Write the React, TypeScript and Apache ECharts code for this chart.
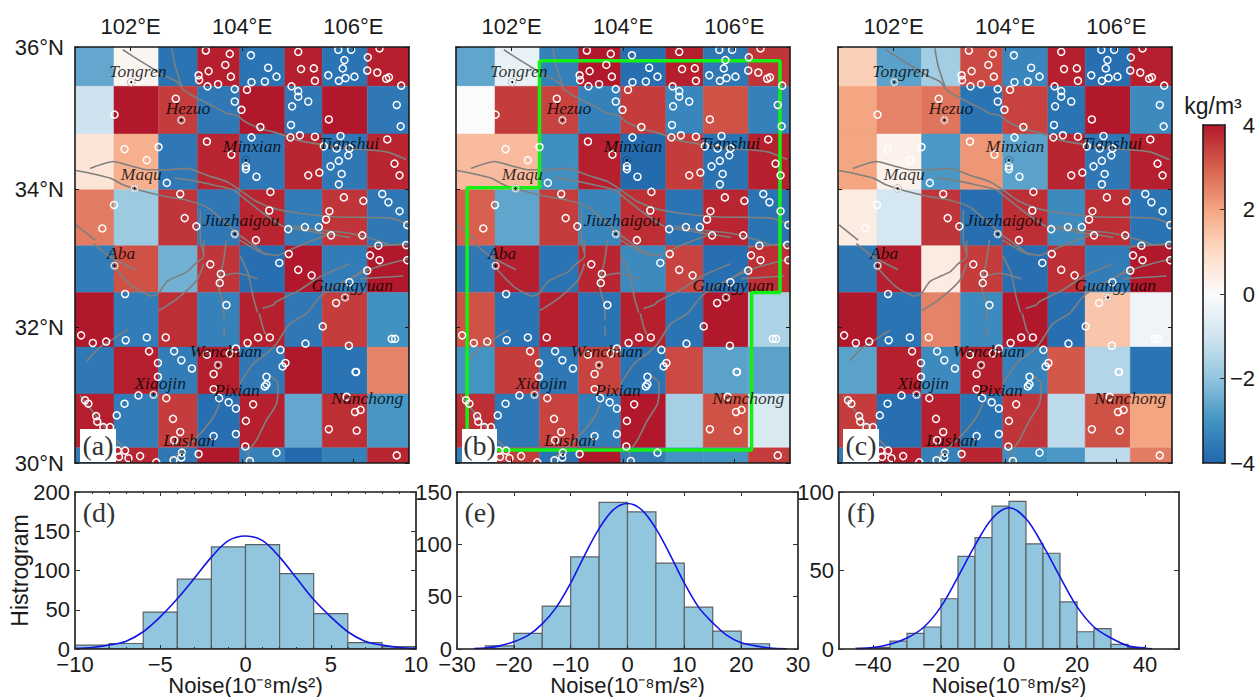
import React, { useEffect, useRef } from "react";
import * as echarts from "echarts";

const lonEdges = [101, 101.7, 102.5, 103.2, 103.96, 104.77, 105.44, 106.25, 107];
const latEdges = [36.06, 35.49, 34.8, 33.99, 33.18, 32.5, 31.71, 31.03, 30.25, 30.03];
const lonTicks = [102, 104, 106];
const latTicks = [30.03, 32, 34, 36.06];
const colorStops = ["#2166ac", "#4393c3", "#92c5de", "#d1e5f0", "#fbfbfb", "#fddbc7", "#f4a582", "#d6604d", "#b2182b"];
const colorbarTicks = [-4, -2, 0, 2, 4];

const cellsA = [
  [-2.6, 0.2, -3.7, 3.9, -3.7, 3.9, -3.7, 3.9],
  [-1.05, 4, 3.5, -3.6, 4, -3.6, 4, -3.6],
  [0.7, 1.8, -3.6, 3.8, -3.6, 3.8, -3.6, 3.8],
  [2.6, -1.85, 3.6, -3.6, 3.8, -3.5, 3.6, -3.6],
  [-3.5, 3.2, -2.4, 3.6, -3.8, 4, -3.5, 4],
  [4, -3.5, 3.7, -3.4, 3.9, -3.6, 3.5, -3.05],
  [-3.6, 3.9, -3.5, 3.9, -3.6, 4, -3.7, 2.5],
  [3.9, -3.5, 3.5, -3.8, 3.9, -2.6, 3.7, -2.95],
  [-3.5, 3.8, -3.6, 4, -3.4, -3.9, -3.4, 3.8],
];
const cellsB = [
  [-2.65, -0.45, -3.4, 4, -3.8, 3.9, -3.6, 3.6],
  [0, 3.5, 3.4, -3.4, 3.5, -3.3, 3.2, -3.4],
  [1.6, 1.6, -3.1, 3.9, -3.9, 3.5, -3.7, 3.9],
  [3, -2.65, 3.5, -3.3, 3.7, -3.7, 3.8, -3.7],
  [-3.6, 3.9, -3.7, 3.8, -3.2, 3.4, -3.8, 3.7],
  [3.2, -3.7, 3.9, -3.7, 3.9, -3.7, 4, -1.6],
  [-3, 3.5, -3.6, 3.4, -3.7, 3.3, -2.7, -2.7],
  [3.7, -3.6, 3.4, -3.5, 4, -1.7, 3.2, -0.8],
  [-3.5, 3.5, -3.7, 4, -3.5, -3, -3, 3.5],
];
const cellsC = [
  [1.2, -2.7, -1.75, 3.3, -3.3, 3.9, -3.8, 3.9],
  [2, 2.5, 2.7, -3.7, 3.4, -3.7, 4, -3.2],
  [2, 0.3, -2.9, 2.2, -2.7, 3.8, -3.6, 3.9],
  [0.5, -0.9, 3.6, -3.8, 3.7, -3.2, 3.7, -3.7],
  [-3.6, 3.9, 0.5, 3.5, -3.8, 3.7, -3.5, 4],
  [4, -3.7, 2.5, -3.2, 4, -3.8, 1.4, -0.3],
  [-2.7, 3.9, -3.2, 3.9, -3.4, 3.1, -1.5, -3.7],
  [3.5, -3.8, 3.9, -3.7, 3.6, -1.3, 3.2, 2],
  [-3.5, 3.9, -3.4, 3.8, -3.1, -2.9, -1.3, 2.6],
];

const quakes = [
  [102.01, 35.55], [101.71, 35.08], [101.89, 34.58], [102.5, 34.61], [102.29, 34.42], [102.07, 34.01], [101.7, 33.77], [101.49, 33.43],
  [102.65, 34.09], [102.89, 33.93], [102.97, 33.58], [103.18, 33.46], [102.81, 35.31], [102.91, 35.0], [103.35, 36.01], [103.78, 35.96],
  [103.7, 35.8], [103.4, 35.71], [103.22, 35.65], [103.23, 35.58], [103.8, 35.63], [103.57, 35.52], [103.38, 35.49], [104.16, 35.94],
  [104.47, 35.76], [104.62, 35.63], [104.41, 35.56], [104.17, 35.55], [103.87, 35.45], [104.09, 35.44], [103.87, 35.27], [103.99, 35.15],
  [104.33, 34.9], [103.37, 34.69], [103.81, 34.5], [104.17, 34.75], [104.07, 34.33], [104.07, 34.29], [104.26, 34.18], [104.51, 33.96],
  [104.49, 33.69], [105.01, 35.99], [105.06, 35.74], [105.29, 35.75], [105.31, 35.57], [104.89, 35.49], [105.01, 35.42], [105.01, 35.34],
  [105.19, 35.27], [104.9, 35.2], [104.88, 34.93], [104.87, 34.75], [105.04, 34.78], [105.31, 34.76], [105.56, 35.01], [105.19, 34.2],
  [105.39, 34.24], [105.73, 36.02], [105.96, 36.02], [105.84, 35.87], [105.81, 35.75], [105.55, 35.65], [105.74, 35.57], [105.86, 35.61],
  [106.02, 35.63], [106.26, 35.91], [106.47, 36.04], [106.25, 35.72], [106.43, 35.69], [106.59, 35.6], [106.64, 35.62], [106.86, 35.5],
  [106.78, 35.22], [106.85, 34.91], [105.77, 34.77], [105.47, 34.62], [105.7, 34.59], [105.93, 34.59], [105.91, 34.49], [105.74, 34.41],
  [105.59, 34.33], [105.79, 34.22], [105.74, 34.07], [106.61, 34.72], [106.74, 34.37], [106.83, 34.2], [106.52, 33.93], [106.63, 33.81],
  [106.83, 33.68], [105.83, 33.88], [106.18, 33.83], [105.57, 33.68], [105.51, 33.56], [104.83, 33.42], [105.13, 33.45], [105.38, 33.45],
  [105.6, 33.33], [106.16, 33.33], [106.97, 33.48], [103.87, 33.35], [104.25, 33.26], [101.71, 32.89], [101.9, 32.48], [103.43, 32.91],
  [103.62, 32.77], [103.6, 32.64], [103.72, 32.32], [104.67, 32.93], [104.84, 33.06], [105.01, 32.83], [105.25, 32.75], [105.69, 32.35],
  [105.85, 32.43], [105.93, 32.65], [106.25, 32.82], [106.3, 33.04], [106.47, 32.97], [106.45, 33.18], [106.95, 33.19], [106.97, 32.97],
  [105.45, 32.01], [105.92, 31.73], [106.69, 31.83], [106.75, 31.83], [105.14, 31.76], [101.11, 31.88], [101.32, 31.77], [101.56, 31.79],
  [101.91, 31.81], [102.29, 31.85], [102.63, 31.85], [102.33, 31.65], [102.78, 31.65], [102.91, 31.52], [103.1, 31.4], [102.49, 31.48],
  [102.49, 31.28], [102.14, 31.01], [102.41, 31.02], [102.64, 30.97], [101.89, 30.89], [101.75, 30.72], [101.18, 30.94], [101.24, 30.89],
  [101.38, 30.71], [101.4, 30.63], [101.51, 30.55], [101.63, 30.55], [102.76, 30.67], [102.89, 30.48], [102.78, 30.36], [101.77, 30.21],
  [101.9, 30.21], [101.79, 30.12], [101.96, 30.1], [102.17, 30.13], [102.46, 30.04], [102.92, 30.18], [102.91, 30.11], [102.77, 30.07],
  [103.22, 30.16], [103.49, 30.42], [103.89, 30.45], [104.06, 30.27], [104.14, 30.06], [104.62, 30.18], [106.78, 30.14], [105.56, 30.52],
  [106.06, 30.5], [106.03, 30.77], [106.13, 30.8], [105.88, 30.99], [106.04, 31.35], [106.05, 31.35], [104.78, 31.48], [104.73, 31.43],
  [104.69, 31.67], [104.44, 31.28], [104.44, 31.17], [104.41, 31.14], [104.2, 30.88], [104.07, 30.64], [103.89, 30.82], [103.76, 30.91],
  [103.59, 30.97], [103.49, 31.1], [103.49, 31.32], [103.57, 31.45], [103.37, 31.6], [103.78, 31.62], [103.89, 31.69], [104.1, 31.77],
  [104.29, 31.85], [104.5, 31.85],
];

const faults = [
  [[101.86, 36.02], [102.05, 35.92], [102.29, 35.8], [102.59, 35.65], [102.83, 35.56], [102.95, 35.44], [103.19, 35.32], [103.49, 35.2], [103.72, 35.1], [103.9, 35.07], [104.05, 34.98], [104.32, 34.88], [104.56, 34.83], [104.8, 34.77], [104.98, 34.71], [105.4, 34.65], [105.88, 34.59], [106.24, 34.57], [106.6, 34.54], [106.95, 34.43]],
  [[102.74, 36.04], [102.8, 35.78], [102.92, 35.49]],
  [[101.27, 34.3], [101.69, 34.4], [101.99, 34.34], [102.29, 34.28], [102.65, 34.28], [103.01, 34.3], [103.37, 34.2], [103.72, 34.11], [103.96, 33.99], [104.26, 33.82], [104.62, 33.71], [105.04, 33.65], [105.64, 33.6], [106.24, 33.59], [106.66, 33.58], [107, 33.49]],
  [[101.02, 34.27], [101.27, 34.23], [101.63, 34.16], [101.87, 34.06], [102.23, 33.97], [102.65, 33.89], [103.01, 33.84], [103.37, 33.74], [103.72, 33.5], [103.96, 33.33], [104.2, 33.19], [104.44, 33.04]],
  [[102.78, 34.16], [103.07, 34.13], [103.49, 34.06], [103.84, 33.99], [104.08, 33.84], [104.38, 33.65], [104.74, 33.46], [105.04, 33.41], [105.64, 33.34], [105.94, 33.3]],
  [[101.33, 33.21], [101.63, 33.02], [102.08, 32.83]],
  [[101.72, 32.85], [102.05, 32.58], [102.38, 32.45], [102.5, 32.49], [102.65, 32.66], [103.01, 32.8], [103.16, 32.92], [103.31, 33.02], [103.31, 33.26]],
  [[102.51, 32.24], [102.83, 32.41], [103.19, 32.68], [103.31, 32.92]],
  [[103.72, 33.26], [103.66, 32.92], [103.57, 32.63], [103.66, 32.34], [103.68, 32.1]],
  [[103.68, 32.01], [103.68, 31.88]],
  [[103.96, 33.04], [104.11, 32.78], [104.2, 32.44], [104.28, 32.21]],
  [[104.31, 32.2], [104.38, 31.98], [104.43, 31.89]],
  [[103.6, 32.73], [103.9, 32.78], [104.29, 32.7]],
  [[104.37, 32.27], [104.56, 32.32], [104.62, 32.37], [105.04, 32.54], [105.4, 32.73], [105.94, 32.92]],
  [[101.21, 31.51], [101.45, 31.71], [101.69, 31.83], [101.94, 31.96]],
  [[106.24, 32.87], [106, 32.73], [105.64, 32.58], [105.4, 32.44], [105.16, 32.2], [104.86, 32.05], [104.62, 31.76], [104.44, 31.62], [104.2, 31.47], [103.96, 31.18]],
  [[106.12, 32.7], [106.9, 32.74]],
  [[106, 32.73], [106.42, 32.87], [107, 32.99]],
  [[104.5, 31.3], [104.65, 31.18], [104.62, 30.89], [104.44, 30.65], [104.26, 30.36], [104.11, 30.17], [104.14, 30.05]],
  [[103.6, 30.89], [103.49, 30.7], [103.31, 30.51], [103.07, 30.31], [102.71, 30.07]],
  [[101.09, 31.01], [101.39, 30.7], [101.63, 30.46], [101.87, 30.26]],
  [[103.96, 33.26], [104.32, 33.09], [104.62, 33.04], [104.92, 33.14], [105.22, 33.24], [105.52, 33.33]],
  [[104.92, 33.46], [105.34, 33.41], [105.94, 33.36], [106.42, 33.26], [106.66, 33.19]],
  [[106.24, 33.16], [106.96, 33.21]],
  [[103.25, 33.7], [103.25, 33.26], [103.31, 33.07]],
  [[101.02, 33.48], [101.36, 33.26]],
];

const cityNames = ["Tongren", "Hezuo", "Minxian", "Tianshui", "Maqu", "Jiuzhaigou", "Aba", "Guangyuan", "Wenchuan", "Xiaojin", "Pixian", "Nanchong", "Lushan"];
const cityLon = [102.13, 103.03, 104.18, 105.92, 102.19, 103.98, 101.83, 105.98, 103.71, 102.53, 103.91, 106.25, 103.05];
const cityLat = [35.71, 35.18, 34.63, 34.67, 34.22, 33.55, 33.07, 32.61, 31.65, 31.19, 31.09, 30.97, 30.36];
const cityDots = [[102.01, 35.55], [102.91, 35.0], [102.07, 34.01], [104.07, 34.42], [103.87, 33.35], [101.71, 32.89], [105.85, 32.43], [103.57, 31.45], [102.41, 31.02], [102.92, 30.15]];

const greenOutline = [[102.5, 35.86], [106.82, 35.86], [106.82, 32.5], [106.31, 32.5], [106.31, 30.22], [101.2, 30.22], [101.2, 34.02], [102.5, 34.02], [102.5, 35.86]];

const histDStart = -10;
const histDWidth = 2;
const histDCounts = [5, 7, 47, 89, 130, 133, 96, 45, 8, 3];
const curveDX = [-10, -9, -8, -7, -6, -5, -4, -3, -2, -1, 0, 1, 2, 3, 4, 5, 6, 7, 8, 9, 10];
const curveDY = [1, 2, 5, 10, 22, 41, 64, 90, 117, 138, 144, 138, 117, 90, 63, 41, 22, 10, 5, 2, 1];

const histEStart = -25;
const histEWidth = 5;
const histECounts = [3, 15, 41, 88, 140, 131, 82, 40, 17, 5];
const curveEX = [-27, -25, -22.5, -20, -17.5, -15, -12.5, -10, -7.5, -5, -2.5, 0, 2.5, 5, 7.5, 10, 12.5, 15, 17.5, 20, 22.5, 25, 28];
const curveEY = [0.5, 1, 3, 7, 13, 24, 40, 63, 90, 115, 133, 139, 133, 115, 90, 63, 40, 25, 13, 6, 3, 1, 0.3];

const histFStart = -45;
const histFWidth = 5;
const histFCounts = [0.6, 1, 5, 10, 14, 32, 59, 71, 91, 94, 67, 61, 30, 11, 13, 3, 1];
const curveFX = [-45, -40, -35, -30, -25, -20, -15, -10, -5, 0, 5, 10, 15, 20, 25, 30, 35, 40, 42];
const curveFY = [0.2, 1, 3, 7, 14, 27, 46, 66, 83, 90, 83, 66, 46, 27, 14, 7, 2, 0.5, 0.2];

const FRAME = "#1a1a1a";
const SANS = "Liberation Sans";
const SERIF = "Liberation Serif";
const MINUS = "\u2212";
const signed = (v: number) => (v < 0 ? MINUS + Math.abs(v) : String(v));

function valueColor(v: number) {
  const t = (v + 4) / 8;
  return echarts.color.lerp(Math.max(0, Math.min(1, t)), colorStops);
}

function cellItem(_: any, api: any) {
  const a = api.coord([api.value(0), api.value(3)]);
  const b = api.coord([api.value(1), api.value(2)]);
  const fill = valueColor(api.value(4));
  return {
    type: "rect",
    shape: { x: a[0], y: a[1], width: b[0] - a[0], height: b[1] - a[1] },
    style: { fill, stroke: fill, lineWidth: 0.4 },
  };
}

function barItem(_: any, api: any) {
  const a = api.coord([api.value(0), api.value(2)]);
  const b = api.coord([api.value(1), 0]);
  return {
    type: "rect",
    shape: { x: a[0], y: a[1], width: b[0] - a[0], height: b[1] - a[1] },
    style: { fill: "#92c5de", stroke: "#5a6266", lineWidth: 1.2 },
  };
}

function colorbarItem(_: any, api: any) {
  const a = api.coord([0, api.value(1)]);
  const b = api.coord([1, api.value(0)]);
  const n = colorStops.length - 1;
  return {
    type: "rect",
    shape: { x: a[0], y: a[1], width: b[0] - a[0], height: b[1] - a[1] },
    style: {
      fill: new echarts.graphic.LinearGradient(0, 1, 0, 0, colorStops.map((color, i) => ({ offset: i / n, color }))),
    },
  };
}

const frameLine = { color: FRAME, width: 1.6 };

function buildOption() {
  const grid: any[] = [];
  const xAxis: any[] = [];
  const yAxis: any[] = [];
  const series: any[] = [];

  const mapPanels = [
    { left: 75, cells: cellsA },
    { left: 456, cells: cellsB },
    { left: 838, cells: cellsC },
  ];

  mapPanels.forEach((p, idx) => {
    const g = grid.length;
    grid.push({ left: p.left, top: 47, width: 334, height: 416, outerBoundsMode: "none" });
    const xi = xAxis.length;
    const yi = yAxis.length;
    const xBase = {
      gridIndex: g, type: "value", min: 101, max: 107, z: 10,
      axisLine: { show: true, onZero: false, lineStyle: frameLine },
      axisTick: { show: true, inside: true, length: 4, customValues: lonTicks, lineStyle: { color: FRAME, width: 1 } },
      splitLine: { show: false },
    };
    xAxis.push({
      ...xBase, position: "top",
      axisLabel: { show: true, customValues: lonTicks, formatter: (v: number) => `${v}\u00b0E`, fontSize: 22, color: "#1a1a1a", fontFamily: SANS, margin: 10 },
    });
    xAxis.push({ ...xBase, position: "bottom", axisLabel: { show: false } });
    const yBase = {
      gridIndex: g, type: "value", min: 30.03, max: 36.06, z: 10,
      axisLine: { show: true, onZero: false, lineStyle: frameLine },
      axisTick: { show: true, inside: true, length: 4, customValues: latTicks, lineStyle: { color: FRAME, width: 1 } },
      splitLine: { show: false },
    };
    yAxis.push({
      ...yBase, position: "left",
      axisLabel: {
        show: idx === 0, customValues: latTicks, formatter: (v: number) => `${Math.round(v)}\u00b0N`,
        fontSize: 22, color: "#1a1a1a", fontFamily: SANS, margin: 11,
      },
    });
    yAxis.push({ ...yBase, position: "right", axisLabel: { show: false } });

    const cellData: number[][] = [];
    p.cells.forEach((row, r) =>
      row.forEach((v, c) => cellData.push([lonEdges[c], lonEdges[c + 1], latEdges[r + 1], latEdges[r], v]))
    );
    series.push({
      type: "custom", xAxisIndex: xi, yAxisIndex: yi, renderItem: cellItem, data: cellData,
      encode: { x: [0, 1], y: [2, 3] }, clip: true, z: 2, silent: true,
    });
    faults.forEach((f) =>
      series.push({
        type: "line", xAxisIndex: xi, yAxisIndex: yi, data: f, symbol: "none", smooth: 0.2, clip: true, z: 3, silent: true,
        lineStyle: { color: "#7f7f7f", width: 1.6 },
      })
    );
    if (idx === 1) {
      series.push({
        type: "line", xAxisIndex: xi, yAxisIndex: yi, data: greenOutline, symbol: "none", clip: false, z: 4, silent: true,
        lineStyle: { color: "#14f014", width: 3.5 },
      });
    }
    series.push({
      type: "scatter", xAxisIndex: xi, yAxisIndex: yi, data: quakes, symbol: "circle", symbolSize: 7, clip: true, z: 5, silent: true,
      itemStyle: { color: "rgba(0,0,0,0)", borderColor: "#ffffff", borderWidth: 1.5, opacity: 1 },
    });
    series.push({
      type: "scatter", xAxisIndex: xi, yAxisIndex: yi, data: cityDots, symbol: "circle", symbolSize: 2, clip: true, z: 6, silent: true,
      itemStyle: { color: "#000000", opacity: 1 },
    });
    series.push({
      type: "scatter", xAxisIndex: xi, yAxisIndex: yi, data: cityDots, symbol: "circle", symbolSize: 7.5, clip: true, z: 6, silent: true,
      itemStyle: { color: "rgba(0,0,0,0)", borderColor: "#000000", borderWidth: 0.7, borderType: "dotted", opacity: 0.8 },
    });
    series.push({
      type: "scatter", xAxisIndex: xi, yAxisIndex: yi, symbolSize: 1, clip: false, z: 7, silent: true,
      itemStyle: { color: "rgba(0,0,0,0)" },
      data: cityNames.map((name, i) => ({ name, value: [cityLon[i], cityLat[i]] })),
      label: {
        show: true, position: "inside", formatter: "{b}", color: "#000000",
        fontFamily: SERIF, fontStyle: "italic", fontSize: 17.5,
      },
      labelLayout: { hideOverlap: false },
    });
  });

  const hists = [
    { left: 75, width: 341, xMin: -10, xMax: 10, xInt: 5, yMax: 200, start: histDStart, w: histDWidth, counts: histDCounts, cx: curveDX, cy: curveDY, minor: true, custom: null, name: "Histrogram" },
    { left: 457, width: 341, xMin: -30, xMax: 30, xInt: 10, yMax: 150, start: histEStart, w: histEWidth, counts: histECounts, cx: curveEX, cy: curveEY, minor: false, custom: null, name: "" },
    { left: 839, width: 340, xMin: -50, xMax: 50, xInt: 10, yMax: 100, start: histFStart, w: histFWidth, counts: histFCounts, cx: curveFX, cy: curveFY, minor: false, custom: [-40, -20, 0, 20, 40], name: "" },
  ];

  hists.forEach((h) => {
    const g = grid.length;
    grid.push({ left: h.left, top: 492, width: h.width, height: 157, outerBoundsMode: "none" });
    const xi = xAxis.length;
    const yi = yAxis.length;
    const xBase: any = {
      gridIndex: g, type: "value", min: h.xMin, max: h.xMax, interval: h.xInt, z: 10,
      axisLine: { show: true, onZero: false, lineStyle: frameLine },
      axisTick: { show: true, inside: true, length: 4, lineStyle: { color: "#333", width: 1 }, ...(h.custom ? { customValues: h.custom } : {}) },
      minorTick: { show: h.minor, splitNumber: 5, length: 2, lineStyle: { color: "#333", width: 1 } },
      splitLine: { show: false },
    };
    xAxis.push({
      ...xBase, position: "bottom",
      name: "Noise(10\u207b\u2078m/s\u00b2)", nameLocation: "middle", nameGap: 25, nameMoveOverlap: false,
      nameTextStyle: { fontSize: 22, color: "#1a1a1a", fontFamily: SANS, verticalAlign: "top" },
      axisLabel: { show: true, formatter: signed, fontSize: 22, lineHeight: 15, color: "#1a1a1a", fontFamily: SANS, margin: 8, ...(h.custom ? { customValues: h.custom } : {}) },
    });
    xAxis.push({ ...xBase, position: "top", axisLabel: { show: false } });
    const yBase: any = {
      gridIndex: g, type: "value", min: 0, max: h.yMax, interval: 50, z: 10,
      axisLine: { show: true, onZero: false, lineStyle: frameLine },
      axisTick: { show: true, inside: true, length: 5, lineStyle: { color: "#333", width: 1 } },
      splitLine: { show: false },
    };
    yAxis.push({
      ...yBase, position: "left",
      name: h.name, nameLocation: "middle", nameRotate: 90, nameGap: 44, nameMoveOverlap: false,
      nameTextStyle: { fontSize: 23, color: "#1a1a1a", fontFamily: SANS },
      axisLabel: { show: true, fontSize: 22, lineHeight: 15, color: "#1a1a1a", fontFamily: SANS, margin: 5 },
    });
    yAxis.push({ ...yBase, position: "right", axisLabel: { show: false } });
    series.push({
      type: "custom", xAxisIndex: xi, yAxisIndex: yi, renderItem: barItem, z: 2, silent: true, clip: true,
      encode: { x: [0, 1], y: 2 },
      data: h.counts.map((c, i) => [h.start + i * h.w, h.start + (i + 1) * h.w, c]),
    });
    series.push({
      type: "line", xAxisIndex: xi, yAxisIndex: yi, symbol: "none", smooth: 0.35, z: 3, silent: true, clip: true,
      data: h.cx.map((x, i) => [x, h.cy[i]]),
      lineStyle: { color: "#1414e6", width: 1.6 },
    });
  });

  // colour bar
  const g = grid.length;
  grid.push({ left: 1203, top: 125, width: 22, height: 338, outerBoundsMode: "none" });
  const xi = xAxis.length;
  const yi = yAxis.length;
  xAxis.push({
    gridIndex: g, type: "value", min: 0, max: 1, position: "top", z: 10,
    axisLine: { show: true, onZero: false, lineStyle: frameLine }, axisTick: { show: false }, axisLabel: { show: false }, splitLine: { show: false },
  });
  xAxis.push({
    gridIndex: g, type: "value", min: 0, max: 1, position: "bottom", z: 10,
    axisLine: { show: true, onZero: false, lineStyle: frameLine }, axisTick: { show: false }, axisLabel: { show: false }, splitLine: { show: false },
  });
  yAxis.push({
    gridIndex: g, type: "value", min: -4, max: 4, position: "right", interval: 2, z: 10,
    axisLine: { show: true, onZero: false, lineStyle: frameLine },
    axisTick: { show: true, inside: true, length: 5, customValues: colorbarTicks, lineStyle: { color: "#333", width: 1 } },
    axisLabel: { show: true, formatter: signed, fontSize: 22, color: "#1a1a1a", fontFamily: SANS, align: "right", margin: 30 },
    splitLine: { show: false },
  });
  yAxis.push({
    gridIndex: g, type: "value", min: -4, max: 4, position: "left", interval: 2, z: 10,
    axisLine: { show: true, onZero: false, lineStyle: frameLine }, axisTick: { show: false }, axisLabel: { show: false }, splitLine: { show: false },
  });
  series.push({
    type: "custom", xAxisIndex: xi, yAxisIndex: yi, renderItem: colorbarItem, z: 2, silent: true,
    encode: { y: [0, 1] }, data: [[-4, 4]],
  });

  const panelBox = (text: string, left: number, top: number, w: number, h: number, box: boolean) => ({
    type: "group",
    z: 20,
    children: [
      ...(box ? [{ type: "rect", shape: { x: left, y: top, width: w, height: h }, style: { fill: "#ffffff" }, z: 20 }] : []),
      {
        type: "text", x: left + w / 2, y: top + h / 2, z: 21,
        style: { text, fill: "#333333", font: `28px "${SERIF}"`, textAlign: "center", textVerticalAlign: "middle" },
      },
    ],
  });

  const graphic = [
    panelBox("(a)", 80, 429, 36, 33, true),
    panelBox("(b)", 462, 429, 35, 33, true),
    panelBox("(c)", 843, 429, 36, 33, true),
    panelBox("(d)", 81, 496, 36, 33, false),
    panelBox("(e)", 462, 496, 36, 33, false),
    panelBox("(f)", 843, 496, 36, 33, false),
    {
      type: "text", x: 1213, y: 106, z: 21,
      style: { text: "kg/m\u00b3", fill: "#1a1a1a", font: `23px "${SANS}"`, textAlign: "center", textVerticalAlign: "middle" },
    },
  ];

  return { animation: false, backgroundColor: "#ffffff", textStyle: { fontFamily: SANS }, grid, xAxis, yAxis, series, graphic };
}

export default function App() {
  const ref = useRef<HTMLDivElement>(null);
  useEffect(() => {
    document.body.style.margin = "0";
    const chart = echarts.init(ref.current!, null, { renderer: "svg" });
    chart.setOption(buildOption() as any);
    return () => chart.dispose();
  }, []);
  return <div ref={ref} style={{ width: 1260, height: 697 }} />;
}
